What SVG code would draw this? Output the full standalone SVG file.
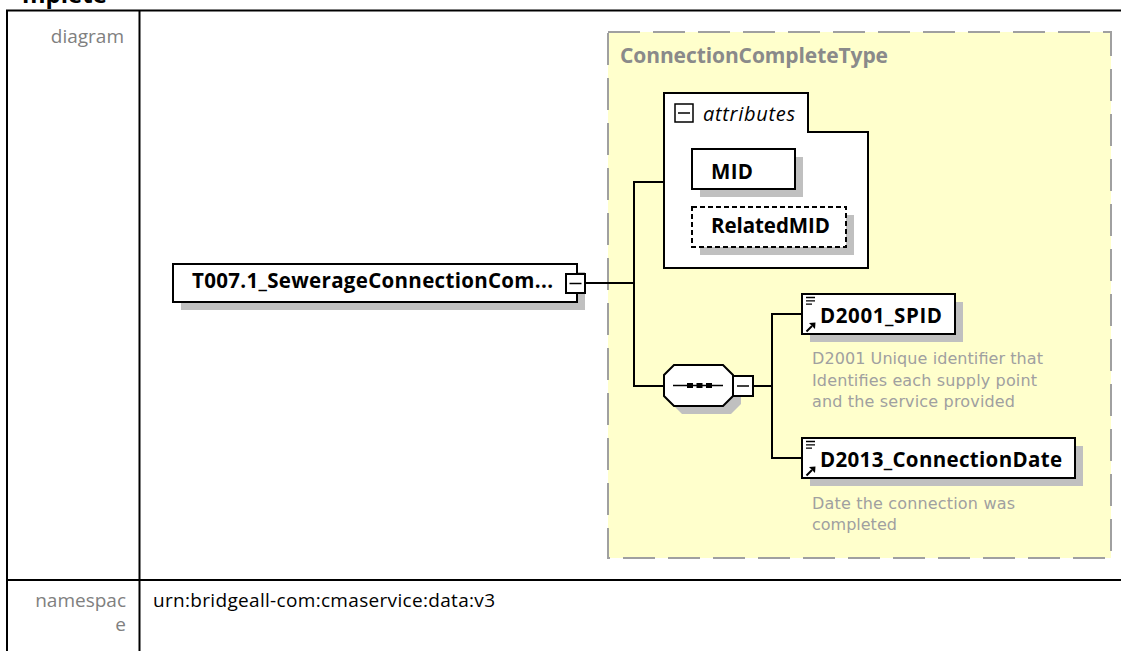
<svg xmlns="http://www.w3.org/2000/svg" width="1121" height="651" viewBox="0 0 1121 651">
<style>
.tbl{stroke:#000;stroke-width:2;fill:none}
.lbl{font-family:"Open Sans","Noto Sans",sans-serif;font-size:19px;fill:#808080}
.val{font-family:"Open Sans","Noto Sans",sans-serif;font-size:19px;fill:#000}
.box{fill:#fff;stroke:#000;stroke-width:2}
.shadow{fill:#c0c0c0}
.name{font-family:"Open Sans","Noto Sans",sans-serif;font-size:20.5px;font-weight:bold;fill:#000}
.desc{font-family:"DejaVu Sans","Liberation Sans",sans-serif;font-size:16px;fill:#a0a0a0}
.conn{stroke:#000;stroke-width:2;fill:none}
.icon{stroke:#000;stroke-width:1.5;fill:none}
</style>
<rect x="0" y="0" width="1121" height="651" fill="#fff"/>
<text x="22" y="3" font-family="'Open Sans','Noto Sans',sans-serif" font-size="24" font-weight="bold" fill="#000">mplete</text>
<g id="table">
<line class="tbl" x1="6" y1="10.5" x2="1121" y2="10.5"/>
<line class="tbl" x1="7" y1="10" x2="7" y2="651"/>
<line class="tbl" x1="139.5" y1="10" x2="139.5" y2="651"/>
<line class="tbl" x1="6" y1="580" x2="1121" y2="580"/>
<text class="lbl" x="124" y="43" text-anchor="end">diagram</text>
<text class="lbl" x="126" y="607" text-anchor="end">namespac</text>
<text class="lbl" x="126" y="631" text-anchor="end">e</text>
<text class="val" x="153" y="607" textLength="342">urn:bridgeall-com:cmaservice:data:v3</text>
</g>
<g id="type-ConnectionCompleteType">
<rect x="608" y="32" width="503" height="526" fill="#ffffcc" stroke="#a0a0a0" stroke-width="2" stroke-dasharray="32 13"/>
<text x="620" y="63" font-family="'Open Sans','Noto Sans',sans-serif" font-size="21" font-weight="bold" fill="#8a8a8a" textLength="268">ConnectionCompleteType</text>
</g>
<g id="connectors">
<line class="conn" x1="586" y1="283" x2="634" y2="283"/>
<line class="conn" x1="634" y1="182" x2="634" y2="386"/>
<line class="conn" x1="633" y1="182" x2="664" y2="182"/>
<line class="conn" x1="633" y1="386" x2="664" y2="386"/>
<line class="conn" x1="753" y1="386" x2="772" y2="386"/>
<line class="conn" x1="772" y1="314" x2="772" y2="458"/>
<line class="conn" x1="771" y1="314" x2="802" y2="314"/>
<line class="conn" x1="771" y1="458" x2="802" y2="458"/>
</g>
<g id="node-T007">
<rect class="shadow" x="181" y="272" width="404" height="38"/>
<rect class="box" x="173" y="264" width="404" height="38"/>
<text class="name" x="192" y="288" textLength="361">T007.1_SewerageConnectionCom...</text>
<rect class="box" x="566" y="274" width="19" height="19" stroke-width="1.5"/>
<line class="icon" x1="569.5" y1="283.5" x2="581.5" y2="283.5"/>
</g>
<g id="node-attributes">
<path class="box" d="M664,93 H808 V132 H868 V268 H664 Z"/>
<rect x="675" y="104" width="18" height="18" fill="#fff" stroke="#000" stroke-width="1.5"/>
<line class="icon" x1="678" y1="113" x2="690" y2="113"/>
<text x="703" y="121" font-family="'Open Sans','Noto Sans',sans-serif" font-size="20" font-style="italic" fill="#000" textLength="92">attributes</text>
</g>
<g id="node-MID">
<rect class="shadow" x="700" y="157" width="103" height="40"/>
<rect class="box" x="692" y="149" width="103" height="40"/>
<text class="name" x="711" y="179" textLength="42">MID</text>
</g>
<g id="node-RelatedMID">
<rect class="shadow" x="700" y="215" width="154" height="40"/>
<rect class="box" x="692" y="207" width="154" height="40" stroke-dasharray="5 3"/>
<text class="name" x="711" y="233" textLength="119">RelatedMID</text>
</g>
<g id="node-sequence">
<polygon class="shadow" points="682,373 731,373 741,383 741,404 731,414 682,414 672,404 672,383"/>
<polygon class="box" points="674,365 723,365 733,375 733,396 723,406 674,406 664,396 664,375"/>
<line x1="673" y1="385.5" x2="723" y2="385.5" stroke="#000" stroke-width="1.5"/>
<rect x="687" y="383" width="6" height="5" fill="#000"/>
<rect x="696.5" y="383" width="6" height="5" fill="#000"/>
<rect x="706" y="383" width="6" height="5" fill="#000"/>
<rect class="box" x="733" y="376" width="20" height="20" stroke-width="1.5"/>
<line class="icon" x1="737" y1="386" x2="749" y2="386"/>
</g>
<g id="node-D2001_SPID">
<rect class="shadow" x="810" y="302" width="153" height="40"/>
<rect class="box" x="802" y="294" width="153" height="40"/>
<path d="M806,297.5 H815 M806,300.8 H815 M806,304.1 H812" stroke="#000" stroke-width="1.3"/>
<path d="M806.5,331.5 L812,326" stroke="#000" stroke-width="2"/>
<polygon points="815.5,322.5 815,329 809,323" fill="#000"/>
<text class="name" x="820" y="323" textLength="122">D2001_SPID</text>
<text class="desc" x="812" y="364" textLength="231">D2001 Unique identifier that</text>
<text class="desc" x="812" y="386" textLength="225">Identifies each supply point</text>
<text class="desc" x="812" y="407" textLength="203">and the service provided</text>
</g>
<g id="node-D2013_ConnectionDate">
<rect class="shadow" x="810" y="446" width="273" height="40"/>
<rect class="box" x="802" y="438" width="273" height="40"/>
<path d="M806,441.5 H815 M806,444.8 H815 M806,448.1 H812" stroke="#000" stroke-width="1.3"/>
<path d="M806.5,475.5 L812,470" stroke="#000" stroke-width="2"/>
<polygon points="815.5,466.5 815,473 809,467" fill="#000"/>
<text class="name" x="820" y="467" textLength="242">D2013_ConnectionDate</text>
<text class="desc" x="812" y="509" textLength="203">Date the connection was</text>
<text class="desc" x="812" y="530">completed</text>
</g>
</svg>
